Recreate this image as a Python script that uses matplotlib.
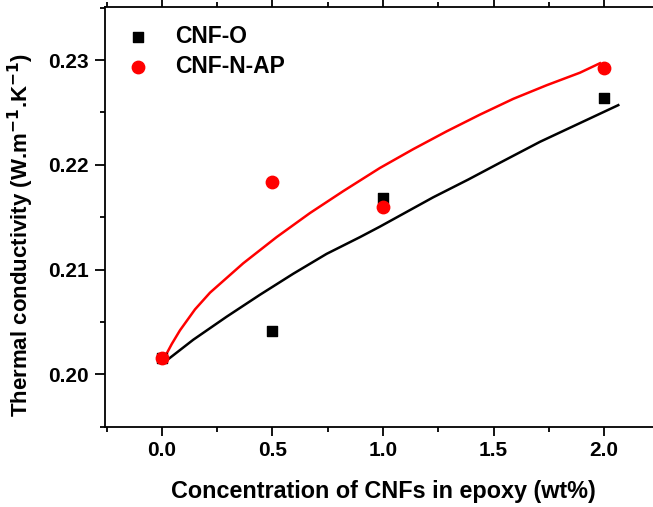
import matplotlib
matplotlib.use("Agg")
import matplotlib.pyplot as plt
from matplotlib.ticker import MultipleLocator

plt.rcParams["font.family"] = ["Liberation Sans", "DejaVu Sans"]
plt.rcParams["font.weight"] = "bold"
plt.rcParams["mathtext.default"] = "bf"

# measured points
conc = [0.0, 0.5, 1.0, 2.0]
k_cnf_o = [0.2016, 0.2041, 0.2168, 0.2264]
k_cnf_nap = [0.2016, 0.2184, 0.2160, 0.2292]

# fitted curves
fit_o_x = [0.014, 0.142, 0.293, 0.444, 0.594, 0.745, 0.896, 0.986, 1.227, 1.386, 1.529, 1.710, 2.064]
fit_o_y = [0.2012, 0.2033, 0.2055, 0.2076, 0.2096, 0.2115, 0.2131, 0.2141, 0.2169, 0.2186, 0.2202, 0.2222, 0.2257]
fit_nap_x = [0.007, 0.045, 0.082, 0.150, 0.218, 0.368, 0.519, 0.670, 0.821, 0.986, 1.137, 1.288, 1.439, 1.589, 1.740, 1.891, 1.981]
fit_nap_y = [0.2014, 0.2029, 0.2042, 0.2062, 0.2078, 0.2106, 0.2131, 0.2154, 0.2175, 0.2197, 0.2215, 0.2232, 0.2248, 0.2263, 0.2276, 0.2288, 0.2297]

fig = plt.figure(figsize=(6.53, 5.07), dpi=100)
ax = fig.add_axes([0.1608, 0.1584, 0.87, 0.8284])

ax.plot(fit_o_x, fit_o_y, color="black", lw=1.8, zorder=2)
ax.plot(fit_nap_x, fit_nap_y, color="red", lw=1.8, zorder=2)
ax.scatter(conc, k_cnf_o, marker="s", s=50, color="black", label="CNF-O", zorder=3)
ax.scatter(conc, k_cnf_nap, marker="o", s=80, color="red", label="CNF-N-AP", zorder=4)

ax.set_xlim(-0.257, 2.312)
ax.set_ylim(0.195, 0.2351)
ax.xaxis.set_major_locator(MultipleLocator(0.5))
ax.xaxis.set_minor_locator(MultipleLocator(0.25))
ax.yaxis.set_major_locator(MultipleLocator(0.01))
ax.yaxis.set_minor_locator(MultipleLocator(0.005))
ax.xaxis.set_major_formatter(plt.FormatStrFormatter("%.1f"))
ax.yaxis.set_major_formatter(plt.FormatStrFormatter("%.2f"))

ax.tick_params(which="both", direction="out", width=1.3, top=True, right=False, labelsize=15)
ax.tick_params(which="major", length=7)
ax.tick_params(which="minor", length=3.8)
ax.tick_params(axis="x", which="major", length=6.5, pad=4)
ax.tick_params(axis="y", which="major", pad=4.5)
for s in ax.spines.values():
    s.set_linewidth(1.3)
ax.spines["right"].set_visible(False)

ax.set_xlabel("Concentration of CNFs in epoxy (wt%)", fontsize=16.8, fontweight="bold")
ax.xaxis.set_label_coords(0.490, -0.128)
ax.set_ylabel("Thermal conductivity (W.m$^{-1}$.K$^{-1}$)", fontsize=16, fontweight="bold")
ax.yaxis.set_label_coords(-0.122, 0.456)

ax.legend(loc="upper left", bbox_to_anchor=(-0.014, 1.0), frameon=False, fontsize=16.5,
          handletextpad=0.6, borderaxespad=0.4, labelspacing=0.3, scatterpoints=1)

fig.savefig("out.png", dpi=100)
